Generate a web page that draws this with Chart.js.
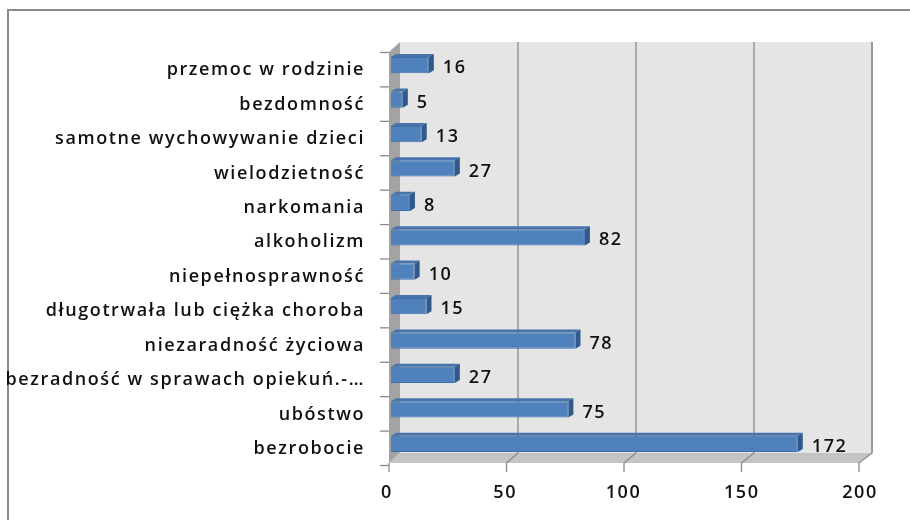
<!DOCTYPE html>
<html>
<head>
<meta charset="utf-8">
<script src="https://cdn.jsdelivr.net/npm/chart.js@4.4.1/dist/chart.umd.min.js"></script>
<style>
    html, body { margin: 0; padding: 0; background: #fff; }
    #wrap { width: 910px; height: 520px; position: relative; }
</style>
</head>
<body>
<div id="wrap"><canvas id="chart" width="910" height="520"></canvas></div>
<script>
// dane (od góry do dołu)
const categories = [
    'przemoc w rodzinie',
    'bezdomność',
    'samotne wychowywanie dzieci',
    'wielodzietność',
    'narkomania',
    'alkoholizm',
    'niepełnosprawność',
    'długotrwała lub ciężka choroba',
    'niezaradność życiowa',
    'bezradność w sprawach opiekuń.-\u2026',
    'ubóstwo',
    'bezrobocie'
];
const values = [16, 5, 13, 27, 8, 82, 10, 15, 78, 27, 75, 172];
const xTicks = [0, 50, 100, 150, 200];

const FONT = '"Open Sans", sans-serif';
const SPACING = '1.6px';

// efekt 3D (ściany, siatka, słupki) rysowany z pozycji skal
const threeD = {
    id: 'threeD',
    beforeLayout(chart) {
        chart.ctx.letterSpacing = SPACING;
    },
    beforeDraw(chart) {
        const ctx = chart.ctx;
        ctx.letterSpacing = SPACING;
        // ramka wykresu
        ctx.save();
        ctx.strokeStyle = '#8c8c8c';
        ctx.lineWidth = 2;
        ctx.strokeRect(8, 10, 920, 530);
        ctx.restore();
    },
    beforeDatasetsDraw(chart) {
        const ctx = chart.ctx;
        const a = chart.chartArea;
        const xs = chart.scales.x;
        const ys = chart.scales.y;
        const fl = a.left - 2, fr = fl + 470;      // przednia płaszczyzna
        const bl = a.left + 9, br = bl + 472;      // tylna ściana
        const topB = a.top - 6, botB = a.bottom - 8;
        const topF = topB + 10, botF = botB + 10;
        const front = v => fl + (xs.getPixelForValue(v) - a.left) * 470 / (a.right - a.left);
        const back = v => bl + (xs.getPixelForValue(v) - a.left) * 472 / (a.right - a.left);

        ctx.save();
        // tylna ściana
        ctx.fillStyle = '#e5e5e5';
        ctx.fillRect(bl, topB, br - bl, botB - topB);
        // podłoga
        ctx.fillStyle = '#c4c4c4';
        ctx.beginPath();
        ctx.moveTo(fl, botF); ctx.lineTo(fr, botF); ctx.lineTo(br, botB); ctx.lineTo(bl, botB);
        ctx.closePath(); ctx.fill();
        // lewa ściana
        ctx.fillStyle = '#a3a3a3';
        ctx.beginPath();
        ctx.moveTo(fl, topF); ctx.lineTo(bl, topB); ctx.lineTo(bl, botB); ctx.lineTo(fl, botF);
        ctx.closePath(); ctx.fill();

        // linie siatki
        ctx.strokeStyle = '#8a8a8a';
        ctx.lineWidth = 1.3;
        xTicks.forEach((v, i) => {
            const xb = back(v), xf = front(v);
            ctx.beginPath();
            if (i > 0) {
                ctx.moveTo(xb, topB); ctx.lineTo(xb, botB);
            }
            ctx.lineTo(xf, botF);
            ctx.lineTo(xf, botF + 9);
            ctx.stroke();
        });
        // krawędź prawej strony
        ctx.strokeStyle = '#9a9a9a';
        ctx.lineWidth = 2;
        ctx.beginPath(); ctx.moveTo(br, topB); ctx.lineTo(br, botB); ctx.stroke();
        // znaczniki osi kategorii
        ctx.strokeStyle = '#8a8a8a';
        ctx.lineWidth = 1.3;
        const step = (ys.getPixelForValue(1) - ys.getPixelForValue(0));
        for (let i = 0; i <= categories.length; i++) {
            const y = ys.getPixelForValue(0) - step / 2 + step * i + 4.5;
            ctx.beginPath(); ctx.moveTo(fl - 9, y); ctx.lineTo(fl, y); ctx.stroke();
        }
        ctx.restore();
    },
    afterDatasetsDraw(chart) {
        const ctx = chart.ctx;
        const meta = chart.getDatasetMeta(0);
        const dx = 5, dy = -3;
        ctx.save();
        meta.data.forEach((bar, i) => {
            const x0 = bar.base, x1 = bar.x;
            const y0 = bar.y - bar.height / 2, y1 = bar.y + bar.height / 2;
            // góra słupka
            ctx.fillStyle = '#4774aa';
            ctx.beginPath();
            ctx.moveTo(x0, y0); ctx.lineTo(x0 + dx, y0 + dy); ctx.lineTo(x1 + dx, y0 + dy); ctx.lineTo(x1, y0);
            ctx.closePath(); ctx.fill();
            // bok słupka
            ctx.fillStyle = '#315a8c';
            ctx.beginPath();
            ctx.moveTo(x1, y0); ctx.lineTo(x1 + dx, y0 + dy); ctx.lineTo(x1 + dx, y1 + dy); ctx.lineTo(x1, y1);
            ctx.closePath(); ctx.fill();
            // etykieta wartości
            ctx.fillStyle = '#111';
            ctx.font = '600 18px ' + FONT;
            ctx.letterSpacing = SPACING;
            ctx.textAlign = 'left';
            ctx.textBaseline = 'middle';
            ctx.fillText(String(values[i]), x1 + dx + 9, bar.y + 3);
        });
        ctx.restore();
    }
};

new Chart(document.getElementById('chart'), {
    type: 'bar',
    data: {
        labels: categories,
        datasets: [{
            data: values,
            backgroundColor: '#4f81bd',
            borderColor: '#3f6ea6',
            borderWidth: 1,
            barPercentage: 0.47,
            categoryPercentage: 1
        }]
    },
    options: {
        indexAxis: 'y',
        responsive: false,
        animation: false,
        devicePixelRatio: 1,
        layout: { padding: { top: 48, right: 46, left: 0, bottom: 0 } },
        plugins: {
            legend: { display: false },
            tooltip: { enabled: false }
        },
        scales: {
            x: {
                min: 0,
                max: 200,
                afterFit(scale) { scale.height = 59; },
                afterBuildTicks(scale) { scale.ticks = xTicks.map(v => ({ value: v })); },
                grid: { display: false, drawTicks: false },
                border: { display: false },
                ticks: {
                    color: '#111',
                    font: { family: FONT, size: 18, weight: '600' },
                    padding: 21,
                    labelOffset: -4
                }
            },
            y: {
                afterFit(scale) { scale.width = 391; },
                grid: { display: false, drawTicks: false },
                border: { display: false },
                ticks: {
                    color: '#111',
                    font: { family: FONT, size: 18, weight: '600' },
                    padding: 26,
                    labelOffset: 5,
                    autoSkip: false
                }
            }
        }
    },
    plugins: [threeD]
});
</script>
</body>
</html>
